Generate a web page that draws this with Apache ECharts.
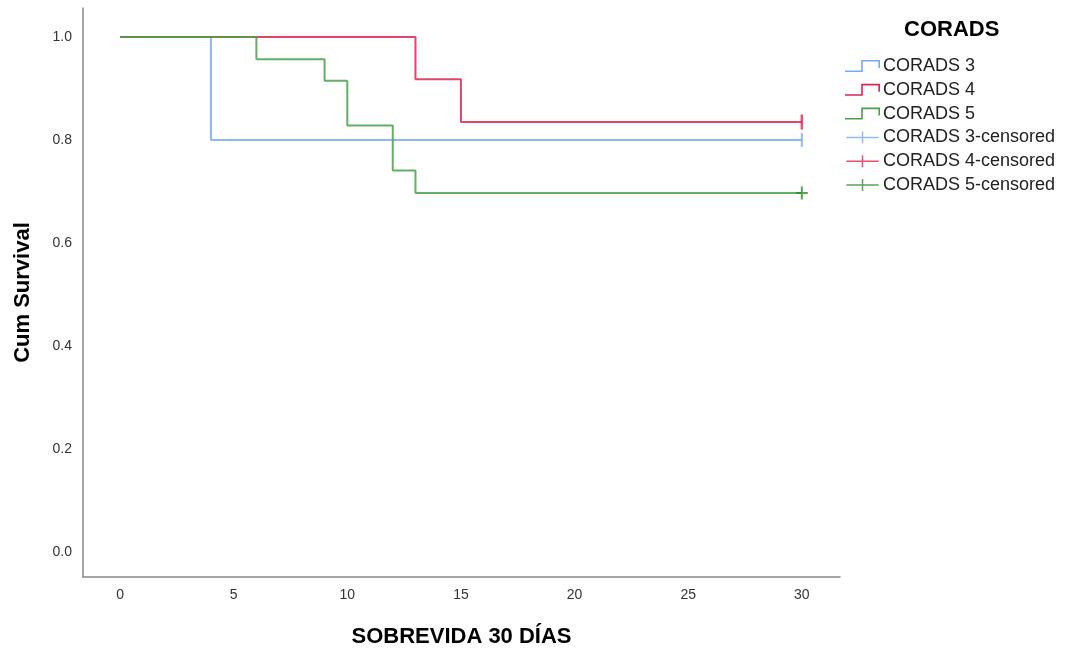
<!DOCTYPE html>
<html>
<head>
<meta charset="utf-8">
<script src="https://cdn.jsdelivr.net/npm/echarts@6/dist/echarts.min.js"></script>
<style>html,body{margin:0;padding:0;background:#fff;}#c{width:1065px;height:653px;}</style>
</head>
<body>
<div id="c"></div>
<script>
// Kaplan-Meier step points [time, survival]
var corads3 = [[0, 1.0], [4, 0.80], [30, 0.80]];
var corads4 = [[0, 1.0], [13, 0.918], [15, 0.835], [30, 0.835]];
var corads5 = [[0, 1.0], [6, 0.957], [9, 0.915], [10, 0.828], [12, 0.741], [13, 0.697], [30, 0.697]];
var censored3 = [[30, 0.80]];
var censored4 = [[30, 0.835]];
var censored5 = [[30, 0.697]];
var seriesNames = ['CORADS 3', 'CORADS 4', 'CORADS 5', 'CORADS 3-censored', 'CORADS 4-censored', 'CORADS 5-censored'];
var xTicks = [0, 5, 10, 15, 20, 25, 30];
var yTicks = [0.0, 0.2, 0.4, 0.6, 0.8, 1.0];

var colBlue = '#78aaee', colRed = '#de2350', colGreen = '#4aa04a', colGreenDark = '#2e8b2e';
var stepIcon = 'path://M0,10.4 L16.2,10.4 L16.2,0 L35,0 L35,8 L33.4,8 L33.4,1.6 L17.8,1.6 L17.8,12 L0,12 Z';
var crossIcon = 'path://M0,5.7 L16.7,5.7 L16.7,0 L18.3,0 L18.3,5.7 L35,5.7 L35,7.3 L18.3,7.3 L18.3,13 L16.7,13 L16.7,7.3 L0,7.3 Z';
var tickMark = 'path://M0,0 L2,0 L2,14 L0,14 Z';
var crossMark = 'path://M5,0 L7,0 L7,5.5 L12,5.5 L12,7.5 L7,7.5 L7,13 L5,13 L5,7.5 L0,7.5 L0,5.5 L5,5.5 Z';

var chart = echarts.init(document.getElementById('c'));
var font = 'Liberation Sans, Arial, sans-serif';
function lineSeries(name, data, color) {
  return { name: name, type: 'line', step: 'end', data: data, symbol: 'none',
    lineStyle: { color: color, width: 2, opacity: 0.85 }, itemStyle: { color: color }, animation: false };
}
function censSeries(name, data, color, sym, size) {
  return { name: name, type: 'scatter', data: data, symbol: sym, symbolSize: size,
    itemStyle: { color: color }, animation: false, z: 5 };
}
chart.setOption({
  backgroundColor: '#fff',
  textStyle: { fontFamily: font },
  title: { text: 'CORADS', left: 899, top: 14,
    textStyle: { fontFamily: font, fontSize: 22, fontWeight: 'bold', color: '#000' } },
  legend: {
    orient: 'vertical', left: 840, top: 52, itemWidth: 35, itemHeight: 12, itemGap: 5.8,
    textStyle: { fontFamily: font, fontSize: 18, color: '#222', padding: [0, 0, 0, -2] },
    data: [
      { name: seriesNames[0], icon: stepIcon, itemStyle: { color: colBlue } },
      { name: seriesNames[1], icon: stepIcon, itemStyle: { color: colRed } },
      { name: seriesNames[2], icon: stepIcon, itemStyle: { color: colGreen } },
      { name: seriesNames[3], icon: crossIcon, itemStyle: { color: colBlue } },
      { name: seriesNames[4], icon: crossIcon, itemStyle: { color: colRed } },
      { name: seriesNames[5], icon: crossIcon, itemStyle: { color: colGreenDark } }
    ]
  },
  grid: { left: 83, top: 8, width: 757, height: 569 },
  xAxis: {
    type: 'value', min: -1.63, max: 31.68,
    name: 'SOBREVIDA 30 DÍAS', nameLocation: 'middle', nameGap: 49,
    nameTextStyle: { fontFamily: font, fontSize: 22, fontWeight: 'bold', color: '#000' },
    axisLine: { show: true, onZero: false, lineStyle: { color: '#888', width: 1.5 } },
    axisTick: { show: false }, splitLine: { show: false },
    axisLabel: { color: '#333', fontSize: 14, margin: 11,
      customValues: xTicks, formatter: function (v) { return String(v); } }
  },
  yAxis: {
    type: 'value', min: -0.0485, max: 1.0563,
    name: 'Cum Survival', nameLocation: 'middle', nameGap: 49,
    nameTextStyle: { fontFamily: font, fontSize: 22, fontWeight: 'bold', color: '#000' },
    axisLine: { show: true, onZero: false, lineStyle: { color: '#888', width: 1.5 } },
    axisTick: { show: false }, splitLine: { show: false },
    axisLabel: { color: '#333', fontSize: 14, margin: 11,
      customValues: yTicks, formatter: function (v) { return v.toFixed(1); } }
  },
  series: [
    lineSeries(seriesNames[0], corads3, colBlue),
    lineSeries(seriesNames[1], corads4, colRed),
    lineSeries(seriesNames[2], corads5, colGreen),
    censSeries(seriesNames[3], censored3, colBlue, tickMark, [2, 14]),
    censSeries(seriesNames[4], censored4, colRed, tickMark, [2.5, 15]),
    censSeries(seriesNames[5], censored5, colGreenDark, crossMark, [12, 13])
  ]
});
</script>
</body>
</html>
